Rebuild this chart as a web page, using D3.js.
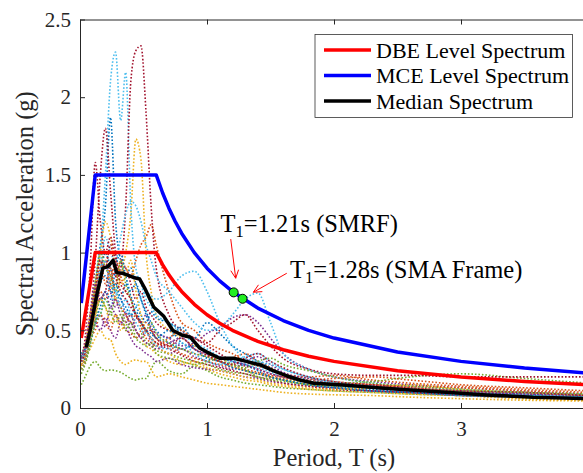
<!DOCTYPE html>
<html>
<head>
<meta charset="utf-8">
<script src="https://cdn.jsdelivr.net/npm/d3@7"></script>
<style>
body { margin: 0; background: #fff; }
svg { display: block; font-family: "Liberation Serif", "Times New Roman", serif; }
</style>
</head>
<body>
<div id="chart"></div>
<script>
// period grid shared by all ground motion records (s)
var periods = [0.01, 0.04, 0.08, 0.12, 0.16, 0.2, 0.24, 0.28, 0.32, 0.36, 0.4, 0.44, 0.48, 0.52, 0.56, 0.6,
  0.7, 0.8, 0.9, 1.0, 1.1, 1.2, 1.3, 1.4, 1.5, 1.6, 1.8, 2.0, 2.3, 2.6, 3.0, 3.5, 4.0];

// spectral acceleration of each record (g)
var rec01 = [0.32, 0.36, 0.55, 0.8, 1.05, 1.3, 1.87, 1.2, 0.95, 0.85, 0.9, 0.8, 0.7, 0.62, 0.55, 0.5, 0.45, 0.52, 0.42, 0.35, 0.3, 0.27, 0.28, 0.3, 0.26, 0.22, 0.17, 0.14, 0.12, 0.1, 0.085, 0.07, 0.06];
var rec02 = [0.33, 0.4, 0.6, 0.75, 0.9, 1.0, 0.85, 0.8, 0.95, 0.9, 0.85, 0.95, 1.05, 1.1, 1.18, 1.05, 0.75, 0.55, 0.5, 0.42, 0.38, 0.35, 0.3, 0.27, 0.25, 0.22, 0.19, 0.17, 0.15, 0.13, 0.11, 0.09, 0.08];
var rec03 = [0.27, 0.32, 0.45, 0.6, 0.8, 0.95, 0.8, 0.7, 0.85, 1.0, 1.25, 1.73, 1.6, 1.0, 0.75, 0.6, 0.5, 0.45, 0.4, 0.36, 0.3, 0.27, 0.24, 0.22, 0.2, 0.18, 0.15, 0.13, 0.11, 0.09, 0.08, 0.06, 0.05];
var rec04 = [0.25, 0.3, 0.42, 0.55, 0.6, 0.52, 0.65, 0.6, 0.55, 0.62, 0.5, 0.58, 0.55, 0.6, 0.52, 0.48, 0.45, 0.4, 0.42, 0.48, 0.52, 0.58, 0.6, 0.55, 0.45, 0.35, 0.25, 0.2, 0.17, 0.15, 0.13, 0.11, 0.09];
var rec05 = [0.15, 0.2, 0.27, 0.3, 0.26, 0.24, 0.245, 0.24, 0.23, 0.21, 0.19, 0.18, 0.19, 0.19, 0.25, 0.3, 0.24, 0.22, 0.27, 0.24, 0.2, 0.18, 0.16, 0.15, 0.14, 0.13, 0.12, 0.11, 0.1, 0.09, 0.08, 0.07, 0.06];
var rec06 = [0.3, 0.35, 0.5, 0.75, 1.0, 1.5, 2.1, 2.29, 1.85, 2.16, 1.3, 0.9, 0.8, 0.7, 0.65, 0.6, 0.55, 0.48, 0.42, 0.38, 0.33, 0.3, 0.28, 0.26, 0.23, 0.2, 0.17, 0.15, 0.13, 0.11, 0.09, 0.08, 0.07];
var rec07 = [0.3, 0.35, 0.5, 0.65, 0.7, 0.75, 0.9, 0.85, 0.9, 1.3, 2.1, 2.3, 2.33, 1.9, 1.3, 0.9, 0.6, 0.5, 0.45, 0.4, 0.35, 0.3, 0.27, 0.25, 0.22, 0.2, 0.17, 0.15, 0.13, 0.11, 0.1, 0.08, 0.07];
var rec08 = [0.35, 0.4, 0.55, 0.7, 0.85, 1.0, 0.9, 0.75, 0.7, 0.8, 0.72, 0.65, 0.6, 0.55, 0.62, 0.58, 0.55, 0.5, 0.45, 0.55, 0.48, 0.4, 0.35, 0.3, 0.25, 0.22, 0.18, 0.16, 0.14, 0.12, 0.1, 0.09, 0.08];
var rec09 = [0.3, 0.35, 0.48, 0.62, 0.75, 0.7, 0.8, 0.95, 0.85, 0.75, 0.7, 0.6, 0.55, 0.5, 0.45, 0.42, 0.4, 0.38, 0.35, 0.33, 0.3, 0.32, 0.35, 0.3, 0.26, 0.22, 0.2, 0.21, 0.18, 0.16, 0.14, 0.12, 0.1];
var rec10 = [0.3, 0.33, 0.38, 0.45, 0.5, 0.45, 0.44, 0.35, 0.3, 0.28, 0.3, 0.31, 0.3, 0.3, 0.25, 0.2, 0.22, 0.2, 0.18, 0.16, 0.15, 0.14, 0.13, 0.12, 0.11, 0.1, 0.09, 0.085, 0.08, 0.07, 0.06, 0.05, 0.045];
var rec11 = [0.28, 0.33, 0.45, 0.6, 0.8, 0.95, 0.75, 0.65, 0.7, 0.6, 0.55, 0.5, 0.45, 0.5, 0.42, 0.4, 0.35, 0.38, 0.33, 0.3, 0.27, 0.25, 0.3, 0.33, 0.28, 0.23, 0.19, 0.16, 0.14, 0.12, 0.1, 0.09, 0.08];
var rec12 = [0.22, 0.28, 0.4, 0.55, 0.7, 0.65, 0.6, 0.7, 0.65, 0.55, 0.5, 0.45, 0.48, 0.42, 0.4, 0.37, 0.35, 0.32, 0.3, 0.28, 0.25, 0.23, 0.22, 0.2, 0.19, 0.18, 0.17, 0.16, 0.17, 0.2, 0.22, 0.19, 0.16];
var rec13 = [0.3, 0.35, 0.5, 0.7, 0.9, 1.1, 1.0, 0.95, 1.1, 1.25, 1.33, 1.3, 1.2, 1.05, 0.95, 0.85, 0.75, 0.65, 0.55, 0.5, 0.52, 0.6, 0.7, 0.74, 0.55, 0.35, 0.25, 0.2, 0.16, 0.14, 0.12, 0.1, 0.09];
var rec14 = [0.28, 0.35, 0.6, 0.95, 1.5, 1.8, 1.4, 1.0, 0.85, 0.9, 0.8, 0.7, 0.75, 0.65, 0.6, 0.55, 0.5, 0.48, 0.45, 0.42, 0.5, 0.55, 0.6, 0.5, 0.4, 0.32, 0.25, 0.22, 0.21, 0.21, 0.2, 0.2, 0.2];
var rec15 = [0.3, 0.32, 0.42, 0.55, 0.65, 0.75, 0.7, 0.9, 1.0, 0.85, 0.75, 0.8, 0.7, 0.6, 0.5, 0.45, 0.42, 0.38, 0.4, 0.35, 0.32, 0.3, 0.28, 0.24, 0.2, 0.18, 0.15, 0.13, 0.11, 0.1, 0.09, 0.08, 0.07];
var rec16 = [0.25, 0.3, 0.45, 0.5, 0.6, 0.55, 0.5, 0.6, 0.55, 0.5, 0.48, 0.45, 0.5, 0.55, 0.5, 0.45, 0.4, 0.35, 0.32, 0.3, 0.28, 0.26, 0.24, 0.22, 0.2, 0.19, 0.17, 0.16, 0.15, 0.14, 0.13, 0.11, 0.09];
var rec17 = [0.33, 0.4, 0.6, 0.8, 1.0, 1.2, 1.1, 0.9, 0.8, 0.85, 0.95, 0.75, 0.6, 0.5, 0.45, 0.4, 0.35, 0.3, 0.28, 0.25, 0.22, 0.2, 0.18, 0.17, 0.15, 0.14, 0.12, 0.11, 0.1, 0.09, 0.08, 0.06, 0.05];
var rec18 = [0.3, 0.34, 0.45, 0.55, 0.5, 0.58, 0.5, 0.45, 0.55, 0.52, 0.45, 0.4, 0.38, 0.35, 0.33, 0.3, 0.32, 0.28, 0.26, 0.25, 0.24, 0.22, 0.2, 0.19, 0.17, 0.16, 0.14, 0.13, 0.11, 0.1, 0.08, 0.07, 0.06];
var rec19 = [0.3, 0.38, 0.55, 0.8, 1.0, 0.9, 0.85, 0.75, 0.95, 0.8, 0.7, 0.6, 0.55, 0.5, 0.55, 0.48, 0.42, 0.38, 0.35, 0.33, 0.3, 0.28, 0.26, 0.3, 0.32, 0.28, 0.24, 0.2, 0.16, 0.14, 0.12, 0.1, 0.08];
var rec20 = [0.3, 0.35, 0.45, 0.55, 0.6, 0.7, 0.65, 0.75, 0.7, 0.62, 0.6, 0.65, 0.7, 0.75, 0.72, 0.7, 0.75, 0.85, 0.88, 0.75, 0.55, 0.4, 0.32, 0.3, 0.28, 0.25, 0.2, 0.17, 0.14, 0.12, 0.1, 0.08, 0.07];
var rec21 = [0.32, 0.45, 0.9, 1.58, 1.2, 1.0, 1.1, 0.95, 0.8, 0.75, 0.7, 0.6, 0.55, 0.5, 0.45, 0.42, 0.38, 0.34, 0.3, 0.28, 0.26, 0.24, 0.22, 0.2, 0.18, 0.16, 0.14, 0.12, 0.11, 0.1, 0.09, 0.07, 0.06];
var rec22 = [0.33, 0.38, 0.5, 0.65, 0.8, 0.85, 0.75, 0.8, 0.7, 0.65, 0.6, 0.62, 0.55, 0.5, 0.48, 0.45, 0.5, 0.42, 0.38, 0.32, 0.3, 0.26, 0.24, 0.22, 0.2, 0.18, 0.15, 0.13, 0.11, 0.1, 0.08, 0.07, 0.06];
var rec23 = [0.3, 0.36, 0.55, 0.75, 0.95, 0.8, 0.9, 0.7, 0.65, 0.6, 0.55, 0.6, 0.52, 0.45, 0.42, 0.4, 0.45, 0.5, 0.42, 0.35, 0.3, 0.28, 0.25, 0.23, 0.21, 0.2, 0.18, 0.19, 0.2, 0.18, 0.15, 0.13, 0.11];
var rec24 = [0.28, 0.33, 0.45, 0.6, 0.7, 0.65, 0.55, 0.6, 0.5, 0.55, 0.6, 0.5, 0.45, 0.4, 0.38, 0.35, 0.3, 0.28, 0.3, 0.26, 0.24, 0.22, 0.2, 0.18, 0.16, 0.15, 0.13, 0.12, 0.13, 0.15, 0.12, 0.1, 0.08];
var rec25 = [0.32, 0.4, 0.6, 0.8, 0.7, 0.75, 0.65, 0.7, 0.6, 0.55, 0.6, 0.5, 0.45, 0.42, 0.4, 0.38, 0.42, 0.45, 0.38, 0.35, 0.33, 0.3, 0.28, 0.25, 0.22, 0.2, 0.17, 0.15, 0.14, 0.12, 0.11, 0.09, 0.08];
var rec26 = [0.25, 0.3, 0.42, 0.55, 0.6, 0.7, 0.62, 0.55, 0.6, 0.5, 0.55, 0.45, 0.42, 0.4, 0.42, 0.35, 0.32, 0.3, 0.28, 0.3, 0.32, 0.28, 0.25, 0.2, 0.18, 0.17, 0.15, 0.14, 0.13, 0.12, 0.11, 0.1, 0.09];
var rec27 = [0.3, 0.36, 0.5, 0.65, 0.85, 0.95, 0.8, 0.75, 0.65, 0.7, 0.6, 0.55, 0.5, 0.48, 0.45, 0.4, 0.38, 0.42, 0.35, 0.3, 0.28, 0.3, 0.33, 0.35, 0.3, 0.25, 0.2, 0.16, 0.13, 0.11, 0.09, 0.08, 0.07];
var rec28 = [0.3, 0.36, 0.55, 0.75, 0.95, 0.9, 1.05, 0.85, 0.75, 0.7, 0.65, 0.6, 0.55, 0.5, 0.5, 0.45, 0.4, 0.45, 0.38, 0.34, 0.3, 0.28, 0.32, 0.35, 0.3, 0.26, 0.2, 0.17, 0.15, 0.13, 0.11, 0.1, 0.08];
var records = [rec01, rec02, rec03, rec04, rec05, rec06, rec07, rec08, rec09, rec10, rec11, rec12, rec13, rec14,
  rec15, rec16, rec17, rec18, rec19, rec20, rec21, rec22, rec23, rec24, rec25, rec26, rec27, rec28];
var recordColors = ['#0072BD', '#D95319', '#EDB120', '#7E2F8E', '#77AC30', '#4DBEEE', '#A2142F'];

// design spectra
var designPeriods = [0.01, 0.12, 0.6, 0.65, 0.7, 0.75, 0.8, 0.9, 1.0, 1.1, 1.2, 1.4, 1.6, 1.8, 2.0, 2.5, 3.0, 3.5, 4.0];
var dbeSa = [0.45, 1.0, 1.0, 0.923, 0.857, 0.8, 0.75, 0.667, 0.6, 0.545, 0.5, 0.429, 0.375, 0.333, 0.3, 0.24, 0.2, 0.171, 0.15];
var mceSa = [0.675, 1.5, 1.5, 1.385, 1.286, 1.2, 1.125, 1.0, 0.9, 0.818, 0.75, 0.643, 0.563, 0.5, 0.45, 0.36, 0.3, 0.257, 0.225];

// median of the record set
var medianPeriods = [0.05, 0.08, 0.13, 0.18, 0.22, 0.26, 0.29, 0.34, 0.42, 0.47, 0.51, 0.58, 0.66, 0.73, 0.8, 0.87, 0.945,
  1.0, 1.1, 1.21, 1.31, 1.42, 1.52, 1.63, 1.73, 1.84, 2.07, 2.34, 2.6, 2.91, 3.2, 3.57, 4.0];
var medianSa = [0.39, 0.5, 0.72, 0.9, 0.91, 0.95, 0.87, 0.867, 0.84, 0.83, 0.77, 0.65, 0.59, 0.5, 0.47, 0.455, 0.384,
  0.36, 0.32, 0.32, 0.3, 0.277, 0.24, 0.206, 0.18, 0.159, 0.148, 0.131, 0.116, 0.1, 0.084, 0.069, 0.061];

// fundamental periods of the two frames
var fundamentalPeriods = [1.21, 1.28];
var fundamentalSa = [0.744, 0.703];
var noteTexts = ['=1.21s (SMRF)', '=1.28s (SMA Frame)'];

var xTicks = [0, 1, 2, 3, 4];
var yTicks = [0, 0.5, 1, 1.5, 2, 2.5];
var legendLabels = ['DBE Level Spectrum', 'MCE Level Spectrum', 'Median Spectrum'];
var legendColors = ['#ff0000', '#0000ff', '#000000'];

var width = 583, height = 473;
var svg = d3.select('#chart').append('svg').attr('width', width).attr('height', height);

var x = d3.scaleLinear().domain([0, 4]).range([80, 588]);
var y = d3.scaleLinear().domain([0, 2.5]).range([408, 19.5]);

svg.append('defs').append('clipPath').attr('id', 'plotClip')
  .append('rect').attr('x', 80).attr('y', 19.5).attr('width', 508).attr('height', 388.5);

var plot = svg.append('g').attr('clip-path', 'url(#plotClip)');

var recLine = d3.line()
  .x(function (d, i) { return x(periods[i]); })
  .y(function (d) { return y(d); })
  .curve(d3.curveMonotoneX);

plot.append('g').attr('class', 'records')
  .selectAll('path')
  .data(records)
  .enter().append('path')
  .attr('d', recLine)
  .attr('fill', 'none')
  .attr('stroke', function (d, i) { return recordColors[i % recordColors.length]; })
  .attr('stroke-width', 1.6)
  .attr('stroke-dasharray', '1.6 1.9');

var designLine = d3.line()
  .x(function (d, i) { return x(designPeriods[i]); })
  .y(function (d) { return y(d); });

plot.append('path').attr('d', designLine(dbeSa))
  .attr('fill', 'none').attr('stroke', '#ff0000').attr('stroke-width', 3.5).attr('stroke-linejoin', 'round');
plot.append('path').attr('d', designLine(mceSa))
  .attr('fill', 'none').attr('stroke', '#0000ff').attr('stroke-width', 3.5).attr('stroke-linejoin', 'round');

var medianLine = d3.line()
  .x(function (d, i) { return x(medianPeriods[i]); })
  .y(function (d) { return y(d); });
plot.append('path').attr('d', medianLine(medianSa))
  .attr('fill', 'none').attr('stroke', '#000').attr('stroke-width', 3.5).attr('stroke-linejoin', 'round');

// arrows to the fundamental periods
var arrowTails = [[1.187, 1.087], [1.628, 0.867]];
var arrowHeads = [[1.226, 0.835], [1.365, 0.745]];
arrowTails.forEach(function (t, i) {
  var x0 = x(t[0]), y0 = y(t[1]), x1 = x(arrowHeads[i][0]), y1 = y(arrowHeads[i][1]);
  var a = Math.atan2(y1 - y0, x1 - x0), L = 9, w = 0.45;
  var p = 'M' + x0 + ',' + y0 + 'L' + x1 + ',' + y1 +
    'M' + (x1 - L * Math.cos(a - w)) + ',' + (y1 - L * Math.sin(a - w)) + 'L' + x1 + ',' + y1 +
    'L' + (x1 - L * Math.cos(a + w)) + ',' + (y1 - L * Math.sin(a + w));
  svg.append('path').attr('d', p).attr('fill', 'none').attr('stroke', '#ff0000').attr('stroke-width', 1);
});

svg.append('g').selectAll('circle')
  .data(fundamentalPeriods)
  .enter().append('circle')
  .attr('cx', function (d) { return x(d); })
  .attr('cy', function (d, i) { return y(fundamentalSa[i]); })
  .attr('r', 4.5)
  .attr('fill', '#22ee22')
  .attr('stroke', '#000')
  .attr('stroke-width', 1);

var notePos = [[1.107, 1.133], [1.654, 0.837]];
notePos.forEach(function (p, i) {
  var t = svg.append('text').attr('x', x(p[0])).attr('y', y(p[1]))
    .attr('font-size', 24.5).attr('fill', '#000');
  t.append('tspan').text('T');
  t.append('tspan').attr('font-size', 16.5).attr('dy', 5).text('1');
  t.append('tspan').attr('dy', -5).text(noteTexts[i]);
});

// axes (MATLAB style box with inward ticks)
var axColor = '#262626';
var xAxis = svg.append('g').attr('transform', 'translate(0,408)')
  .call(d3.axisBottom(x).tickValues(xTicks).tickSize(-5).tickSizeOuter(0).tickPadding(13).tickFormat(d3.format('d')));
var xTop = svg.append('g').attr('transform', 'translate(0,19.5)')
  .call(d3.axisTop(x).tickValues(xTicks).tickSize(-5).tickSizeOuter(0).tickFormat(''));
var yAxis = svg.append('g').attr('transform', 'translate(80,0)')
  .call(d3.axisLeft(y).tickValues(yTicks).tickSize(-5).tickSizeOuter(0).tickPadding(9).tickFormat(function (d) { return d; }));
[xAxis, xTop, yAxis].forEach(function (g) {
  g.select('.domain').attr('stroke', axColor).attr('stroke-width', 1);
  g.selectAll('.tick line').attr('stroke', axColor).attr('stroke-width', 1);
  g.selectAll('.tick text').attr('fill', axColor).attr('font-size', 21)
    .attr('font-family', '"Liberation Serif", "Times New Roman", serif');
});

svg.append('text').attr('x', x(2)).attr('y', 466).attr('text-anchor', 'middle')
  .attr('font-size', 24.5).attr('fill', axColor).text('Period, T (s)');
svg.append('text').attr('transform', 'translate(33,' + y(1.25) + ') rotate(-90)')
  .attr('text-anchor', 'middle').attr('font-size', 24.5).attr('fill', axColor)
  .text('Spectral Acceleration (g)');

// legend
var legend = svg.append('g');
legend.append('rect').attr('x', 315).attr('y', 34.5).attr('width', 257.5).attr('height', 83)
  .attr('fill', '#fff').attr('stroke', '#333').attr('stroke-width', 0.8);
legendLabels.forEach(function (label, i) {
  var ly = 50 + i * 25.5;
  legend.append('line').attr('x1', 324).attr('x2', 371).attr('y1', ly).attr('y2', ly)
    .attr('stroke', legendColors[i]).attr('stroke-width', 3.5);
  legend.append('text').attr('x', 376).attr('y', ly).attr('dy', '0.35em')
    .attr('font-size', 22).attr('fill', '#000').text(label);
});
</script>
</body>
</html>
